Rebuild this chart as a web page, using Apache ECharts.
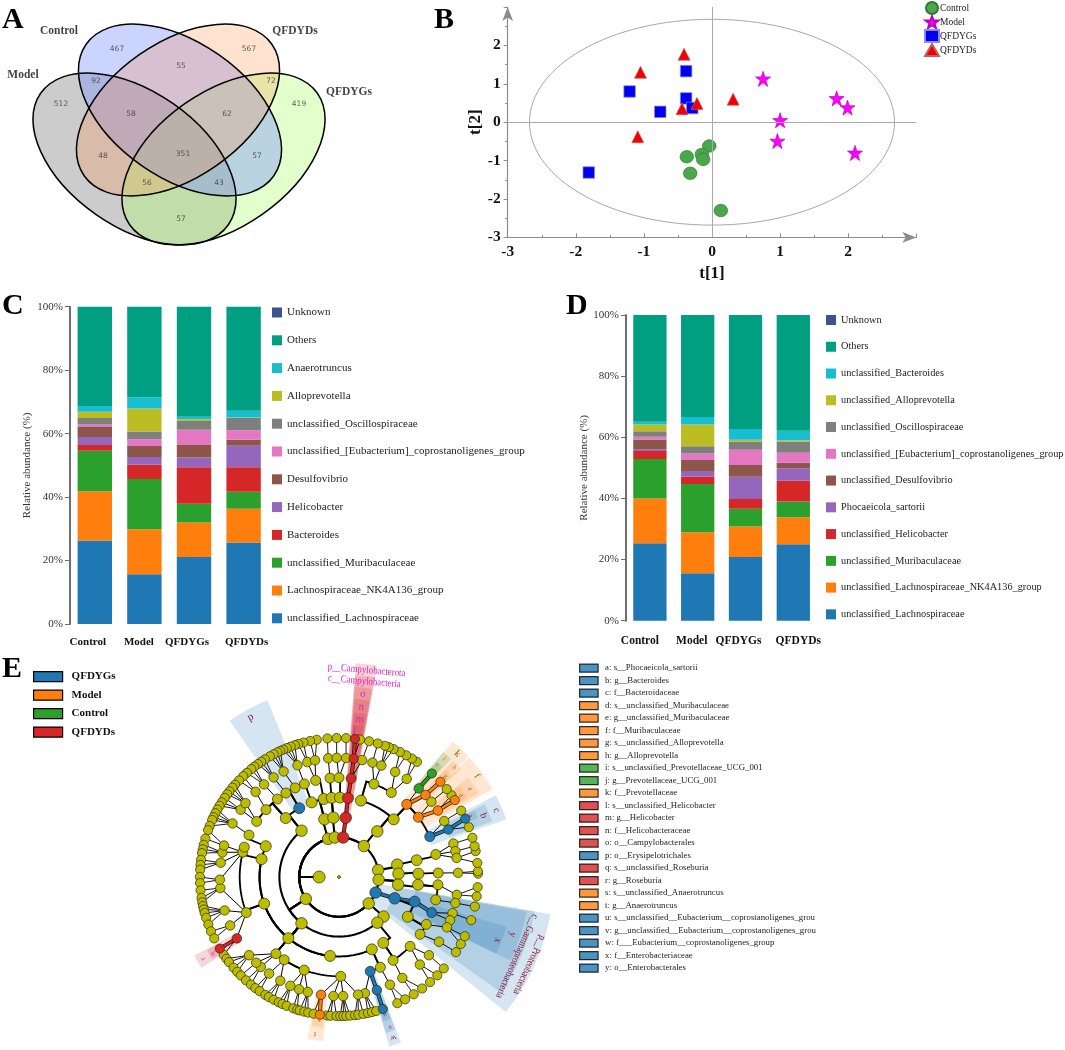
<!DOCTYPE html>
<html><head><meta charset="utf-8">
<style>html,body{margin:0;padding:0;background:#fff}#c{width:1065px;height:1050px}</style>
<script src="https://cdn.jsdelivr.net/npm/echarts@6/dist/echarts.min.js"></script>
</head><body><div id="c"></div>
<script>
// ---------- data ----------
const groups = ['Control','Model','QFDYGs','QFDYDs'];
// Panel A
const vennCounts = [467,567,55,92,72,512,419,58,62,48,351,57,56,43,57];
// Panel B (t[1], t[2])
const scoreControl = [[-0.04,-0.62],[-0.37,-0.90],[-0.15,-0.84],[-0.13,-0.97],[-0.32,-1.33],[0.13,-2.30]];
const scoreModel   = [[0.75,1.13],[1.83,0.62],[1.99,0.38],[1.00,0.05],[0.96,-0.49],[2.10,-0.80]];
const scoreQFDYGs  = [[-0.38,1.33],[-1.21,0.80],[-0.38,0.62],[-0.29,0.37],[-0.76,0.27],[-1.81,-1.31]];
const scoreQFDYDs  = [[-0.41,1.77],[-1.05,1.30],[0.31,0.60],[-0.22,0.49],[-0.44,0.35],[-1.09,-0.38]];
const ellipseRadius = 2.68;
// Panel C (bottom to top, per group)
const genusNames = ['unclassified_Lachnospiraceae','Lachnospiraceae_NK4A136_group','unclassified_Muribaculaceae','Bacteroides','Helicobacter','Desulfovibrio','unclassified_[Eubacterium]_coprostanoligenes_group','unclassified_Oscillospiraceae','Alloprevotella','Anaerotruncus','Others','Unknown'];
const genusControl = [26.3,15.5,12.8,1.8,2.5,3.2,0.8,2.0,2.0,1.8,31.3,0];
const genusModel   = [15.7,14.2,15.8,4.5,2.4,3.5,2.1,2.5,7.2,3.6,28.5,0];
const genusQFDYGs  = [21.1,10.9,5.9,11.5,3.1,3.9,4.8,2.8,0.5,0.8,34.7,0];
const genusQFDYDs  = [25.7,10.6,5.4,7.7,6.8,1.9,3.0,3.8,0.2,2.1,32.8,0];
// Panel D
const speciesNames = ['unclassified_Lachnospiraceae','unclassified_Lachnospiraceae_NK4A136_group','unclassified_Muribaculaceae','unclassified_Helicobacter','Phocaeicola_sartorii','unclassified_Desulfovibrio','unclassified_[Eubacterium]_coprostanoligenes_group','unclassified_Oscillospiraceae','unclassified_Alloprevotella','unclassified_Bacteroides','Others','Unknown'];
const speciesControl = [25.3,14.7,12.9,2.6,0.6,3.2,0.9,1.8,2.2,0.9,34.9,0];
const speciesModel   = [15.5,13.4,15.8,2.4,1.9,3.6,2.1,2.4,7.1,2.4,33.4,0];
const speciesQFDYGs  = [20.8,10.0,5.8,3.2,7.3,3.8,5.0,2.7,0.6,3.5,37.3,0];
const speciesQFDYDs  = [25.0,8.8,5.2,6.8,4.1,1.8,3.2,3.7,0.4,3.1,37.9,0];
// Panel E: cladogram nodes per ring as [angle, parent angle]; angle clockwise from the top
const ring2 = [[6,270],[38.8,270],[80,270],[94,270],[113,270],[131.6,270],[236.6,270],[344,270],[354,270]];
const ring3 = [[6.5,6],[40,38.8],[78,80],[86.8,94],[97.4,94],[111,113],[131.6,131.6],[140,236.6],[219,236.6],[321,236.6],[345.8,344],[354.6,354]];
const ring4 = [[6.5,6.5],[16,40],[43.5,40],[77.8,78],[87.6,86.8],[95.6,97.4],[108,111],[120,111],[146.1,140],[155.6,219],[186.5,219],[219.6,219],[250.4,219],[283,219],[292.8,219],[317.9,321],[330,321],[339.9,345.8],[348.9,345.8],[354.7,354.6],[0.7,354.6]];
const ring5 = [[7,6.5],[20.6,16],[31.8,16],[43,43.5],[53,43.5],[66,43.5],[76.9,77.8],[87.7,87.6],[94.5,95.6],[103.3,95.6],[111,108],[118.5,120],[125.2,120],[134.3,146.1],[147,146.1],[155.4,155.6],[161.7,155.6],[179,219.6],[200.5,219.6],[213.5,219.6],[219.4,219.6],[249,250.4],[284.5,250.4],[287.5,283],[295,292.8],[304,317.9],[312.7,317.9],[321.7,317.9],[327.7,330],[333.8,330],[339.6,339.9],[346.4,348.9],[354.8,354.7],[0,0.7]];
const ring6 = [7.1,11.2,16.3,20.8,28.1,34.6,42,46.5,50.8,56.1,62,66.5,73.7,77.5,80.8,88,98.6,102.6,107.7,111.3,115,122.9,131,137.3,147.9,154.7,161.5,167.4,170.8,178,182.7,188.7,195.2,199.6,204.1,209.5,215.9,221,224,229,239,246,253.7,264.7,268.7,276.9,281.9,285.3,296.7,304.4,308.3,315.6,321,326.7,332.3,339.6,344.6,348.4,354.8,358.9,3.4];
const ring7 = [2.9,359,355.2,350.8,348,345.2,343,341.5,339.7,338,336.4,335,333.7,332,330.2,327.8,326,324.3,322.5,320.9,318.5,316.5,314,311.6,310,308,306.5,304.7,302.5,300.8,299,297.3,295.5,294.2,291.5,289.7,286,283.4,281.5,279.9,277.1,275,273,270,267.5,264.5,261.4,259.5,258,256.5,255,252.9,250,247,243.8,239,236,234,232.3,229.3,227,224.9,222,219.3,217,214.8,212,210.3,208,205.7,204,202.1,199.2,197.5,196.4,194.5,192.8,190.5,187.9,185,183.5,181,179.5,178.2,177,175.4,173.4,172,169.9,168,166.3,164.5,161.6,155.2,151.6,147.5,143.3,139.1,135,131.1,122.7,118.8,115.2,108.1,102.3,98,94.2,88.6,87.6,84.2,79.3,77.2,73.6,69,65.2,61.5,56.4,54,50.8,46.8,41.9,34.1,31.6,28.9,26,23.1,21,19.3,16.2,12.5,8.7,6.6];
// discriminant clades: [ring, angle]
const cladeRed    = [[2,6],[3,6.5],[4,6.5],[5,7],[6,7.1],[7,6.6],[6,239],[7,239]];
const cladeBlue   = [[2,113],[3,111],[4,108],[5,111],[4,330],[5,66],[6,66.5],[7,65.2],[5,161.7],[6,161.5],[7,161.6]];
const cladeOrange = [[5,43],[5,53],[6,46.5],[7,46.8],[6,56.1],[7,56.4],[6,188.7],[7,187.9]];
const cladeGreen  = [[6,42],[7,41.9]];
// Panel E legend
const taxaNames = ['a: s__Phocaeicola_sartorii','b: g__Bacteroides','c: f__Bacteroidaceae','d: s__unclassified_Muribaculaceae','e: g__unclassified_Muribaculaceae','f: f__Muribaculaceae','g: s__unclassified_Alloprevotella','h: g__Alloprevotella','i: s__unclassified_Prevotellaceae_UCG_001','j: g__Prevotellaceae_UCG_001','k: f__Prevotellaceae','l: s__unclassified_Helicobacter','m: g__Helicobacter','n: f__Helicobacteraceae','o: o__Campylobacterales','p: o__Erysipelotrichales','q: s__unclassified_Roseburia','r: g__Roseburia','s: s__unclassified_Anaerotruncus','t: g__Anaerotruncus','u: s__unclassified__Eubacterium__coprostanoligenes_group','v: g__unclassified__Eubacterium__coprostanoligenes_group','w: f___Eubacterium__coprostanoligenes_group','x: f__Enterobacteriaceae','y: o__Enterobacterales'];
const taxaGroups = ['b','b','b','o','o','o','o','o','g','g','o','r','r','r','r','b','r','r','o','o','b','b','b','b','b'];
const cladeLegend = ['QFDYGs','Model','Control','QFDYDs'];

// ---------- layout and styles ----------
const SERIF = '"Liberation Serif","Times New Roman",serif';
const STACK_COLORS = ['#1f77b4','#ff7f0e','#2ca02c','#d62728','#9467bd','#8c564b','#e377c2','#7f7f7f','#bcbd22','#17becf','#009f81','#3c5488'];
const GC = {b:'#1f77b4',o:'#ff7f0e',g:'#2ca02c',r:'#d62728',y:'#bcbc00'};
const STAR = 'path://M50 2 L61.8 36 L98 36 L68.6 57.6 L79.4 92 L50 71 L20.6 92 L31.4 57.6 L2 36 L38.2 36 Z';
const labelShiftC = [-7,-5.5,-7,3];
const labelShiftD = [-10,-6,-7,5];

// Venn layout in page pixels
const vennEllipses = [
  {cx:134.5,cy:159,rot:35,fill:'rgba(115,115,115,0.36)'},
  {cx:223.5,cy:159,rot:-35,fill:'rgba(170,255,100,0.33)'},
  {cx:180,cy:110,rot:35,fill:'rgba(125,145,255,0.40)'},
  {cx:178,cy:110,rot:-35,fill:'rgba(255,140,60,0.24)'}
];
const vennA = 114.6, vennB = 67.5;
const vennLabelAt = [[117,48.7],[249,48.7],[181,66],[96,81],[271,81],[61,104],[299,104],[131,114],[227,114],[103,156],[183,154],[257,156],[147,183],[219,183],[181,219]];
const vennSetLabels = [['Control',59,31],['QFDYDs',295,31],['Model',23,75],['QFDYGs',349,92]];

// wedges: [angle from, angle to, ring from, ring to, colour key]
const wedges = [
  [4.5,10.2,2.9,10.8,'r'],[4.5,10.2,2.9,10.2,'r'],[4.8,10,3.9,9.6,'r'],[5,9.8,4.9,9,'r'],[5.2,9.5,5.9,8.3,'r'],[5.4,9.2,6.9,7.7,'r'],
  [325,338,3.9,9.6,'b'],
  [40.1,47,4.9,8.9,'o'],[47.5,60.2,4.9,8.9,'o'],[39.8,43.5,5.9,8.2,'g'],[40.2,43.2,6.9,7.6,'g'],[44.5,48.5,5.9,8.2,'o'],[45,48.2,6.9,7.6,'o'],[52.5,59,5.9,8.2,'o'],[53,58,6.9,7.6,'o'],
  [62.5,71,4.9,8.9,'b'],[63.5,70,5.9,8.2,'b'],[64,67,6.9,7.6,'b'],
  [100,129,1.9,10.8,'b'],[100,125.5,2.9,10,'b'],[100.5,116,3.9,9.6,'b'],[106.5,116,4.9,8.8,'b'],
  [159.5,163.5,4.9,8.9,'b'],[159.8,163.2,5.9,8.2,'b'],[160,163,6.9,7.6,'b'],
  [185.5,191,5.9,8.3,'o'],[186,190.5,6.9,7.6,'o'],
  [236.5,241.5,5.9,8.3,'r'],[237,241,6.9,7.6,'r']
];
const M='#e01fc4', D='#8a1c3c', O='#7a6a20';
const wedgeLabels = [
  ['p__Campylobacterota',10.5,7.6,M,5,10.5],['c__Campylobacteria',9.93,7.4,M,5,10.5],['o',9.29,7.4,M,7,11],['n',8.63,7.5,M,7,11],['m',8,7.5,M,7,11],['l',7.4,6,M,7,11],
  ['p',9.2,331,D,-29,11],['k',8.6,43.9,O,44,10],['f',8.6,53.8,O,54,10],['j',8,41.7,O,42,6],['i',7.5,41.2,O,41,6],['h',8,46.6,O,47,6],['g',7.4,46.7,O,47,6],['e',7.95,56.1,O,56,7],['d',7.37,56.2,O,56,6],
  ['c',8.6,67,D,67,10],['b',7.9,67,D,67,10],['a',7.3,65,D,65,6],
  ['y',9.2,108.4,D,108,10],['x',8.6,111.8,D,112,10],['c__Gammaproteobacteria',9.8,114,D,114,10.5],['p__Proteobacteria',10.55,114.8,D,115,10.5],
  ['u',7.3,161.5,D,161,7],['v',8,161.2,D,161,7],['w',8.55,161.3,D,161,8],
  ['s',7.3,187.8,O,188,7],['t',8,188.7,O,188,8],['q',7.45,238.7,M,239,7],['r',8,239,M,239,8]
];
const ringSize = {0:3,1:12,2:11.5,3:11.5,4:11,5:10,6:9.5,7:9.2};
const ringLine = {2:2.1,3:2.1,4:2,5:1.8,6:1,7:0.9};

// ---------- cladogram helpers ----------
const circ = (a,b)=>{const d=Math.abs(a-b)%360;return d>180?360-d:d;};
const nearest = (a,list)=>list.reduce((m,p)=>circ(p[0],a)<circ(m,a)?p[0]:m,list[0][0]);
const edges = [];
[[2,ring2],[3,ring3],[4,ring4],[5,ring5]].forEach(([k,list])=>{
  list.forEach(n=>edges.push({pr:k-1,pa:n[1],cr:k,ca:n[0],straight:false}));
});
ring6.forEach(a=>edges.push({pr:5,pa:nearest(a,ring5),cr:6,ca:a,straight:true}));
const ring6p = ring6.map(a=>[a]);
ring7.forEach(a=>edges.push({pr:6,pa:nearest(a,ring6p),cr:7,ca:a,straight:true}));
const colorOf = {};
[[cladeRed,'r'],[cladeBlue,'b'],[cladeOrange,'o'],[cladeGreen,'g']].forEach(([l,c])=>l.forEach(n=>colorOf[n[0]+':'+n[1]]=c));
const plainNodes = [[0,0],[1,270]];
[[2,ring2],[3,ring3],[4,ring4],[5,ring5]].forEach(([k,l])=>l.forEach(n=>{if(!colorOf[k+':'+n[0]])plainNodes.push([k,n[0]]);}));
[[6,ring6],[7,ring7]].forEach(([k,l])=>l.forEach(a=>{if(!colorOf[k+':'+a])plainNodes.push([k,a]);}));

function edgePath(e,api){
  const pts=[];
  if(e.straight){pts.push(api.coord([e.pr,e.pa]),api.coord([e.cr,e.ca]));return pts;}
  pts.push(api.coord([e.pr,e.pa]),api.coord([e.cr,e.pa]));
  let d=e.ca-e.pa; while(d>180)d-=360; while(d<-180)d+=360;
  const n=Math.max(1,Math.ceil(Math.abs(d)/2));
  for(let i=1;i<=n;i++)pts.push(api.coord([e.cr,e.pa+d*i/n]));
  return pts;
}

// ---------- series ----------
const series = [];
// Venn
series.push({type:'custom',xAxisIndex:0,yAxisIndex:0,silent:true,z:2,clip:false,
  data:vennEllipses.map(e=>[e.cx,e.cy]),
  renderItem:(p,api)=>{const e=vennEllipses[p.dataIndex],c=api.coord([e.cx,e.cy]);
    return {type:'ellipse',x:c[0],y:c[1],rotation:-e.rot*Math.PI/180,shape:{cx:0,cy:0,rx:vennA,ry:vennB},style:{fill:e.fill,stroke:'none'}};}});
series.push({type:'custom',xAxisIndex:0,yAxisIndex:0,silent:true,z:3,clip:false,
  data:vennEllipses.map(e=>[e.cx,e.cy]),
  renderItem:(p,api)=>{const e=vennEllipses[p.dataIndex],c=api.coord([e.cx,e.cy]);
    return {type:'ellipse',x:c[0],y:c[1],rotation:-e.rot*Math.PI/180,shape:{cx:0,cy:0,rx:vennA,ry:vennB},style:{fill:'none',stroke:'#000',lineWidth:1.5}};}});
series.push({type:'scatter',xAxisIndex:0,yAxisIndex:0,silent:true,z:4,symbolSize:0,
  data:vennCounts.map((v,i)=>({value:vennLabelAt[i],label:{formatter:String(v)}})),
  label:{show:true,position:'inside',fontFamily:'"DejaVu Sans",sans-serif',fontSize:7.5,color:'#3a3a3a'}});
series.push({type:'scatter',xAxisIndex:0,yAxisIndex:0,silent:true,z:4,symbolSize:0,
  data:vennSetLabels.map(s=>({value:[s[1],s[2]],label:{formatter:s[0]}})),
  label:{show:true,position:'inside',fontFamily:SERIF,fontWeight:'bold',fontSize:11.5,color:'#111'}});

// PCA
const pcaMark = {silent:true,symbol:'none',label:{show:false},lineStyle:{color:'#aaa',width:1,type:'solid'},animation:false,data:[{xAxis:0},{yAxis:0}]};
series.push({type:'custom',xAxisIndex:3,yAxisIndex:3,silent:true,z:2,data:[[0,0]],markLine:pcaMark,
  renderItem:(p,api)=>{const c=api.coord([0,0]),s=api.size([ellipseRadius,ellipseRadius]);
    return {type:'ellipse',shape:{cx:c[0],cy:c[1],rx:s[0],ry:s[1]},style:{fill:'none',stroke:'#a8a8a8',lineWidth:1}};}});
[['Control',scoreControl,'circle',[13.5,12.5],'#4aa84a','#2c7a35'],['Model',scoreModel,STAR,15,'#ff00ff','#c000c0'],['QFDYGs',scoreQFDYGs,'rect',11.5,'#0000f0','#8888ff'],['QFDYDs',scoreQFDYDs,'triangle',12,'#f00000','#c06060']].forEach(s=>{
  series.push({name:s[0],type:'scatter',xAxisIndex:3,yAxisIndex:3,z:3,data:s[1],symbol:s[2],symbolSize:s[3],itemStyle:{color:s[4],borderColor:s[5],borderWidth:0.7,opacity:1}});
});

// Stacked bars
function stacks(names,valsByGroup,axis,stack,barW){
  names.forEach((nm,i)=>series.push({name:nm,type:'bar',stack,xAxisIndex:axis,yAxisIndex:axis,barWidth:barW,silent:true,
    itemStyle:{color:STACK_COLORS[i]},data:valsByGroup.map(v=>v[i])}));
}
stacks(genusNames,[genusControl,genusModel,genusQFDYGs,genusQFDYDs],1,'genus',34.4);
stacks(speciesNames,[speciesControl,speciesModel,speciesQFDYGs,speciesQFDYDs],2,'species',33.3);

// Cladogram
series.push({type:'custom',coordinateSystem:'polar',polarIndex:0,silent:true,z:2,clip:false,
  data:wedges.map(w=>[w[3],w[0]]),
  renderItem:(p,api)=>{const w=wedges[p.dataIndex],pts=[],n=Math.max(2,Math.ceil((w[1]-w[0])/2));
    for(let i=0;i<=n;i++)pts.push(api.coord([w[3],w[0]+(w[1]-w[0])*i/n]));
    for(let i=n;i>=0;i--)pts.push(api.coord([w[2],w[0]+(w[1]-w[0])*i/n]));
    return {type:'polygon',shape:{points:pts},style:{fill:GC[w[4]],opacity:0.19,stroke:'none'}};}});
series.push({type:'custom',coordinateSystem:'polar',polarIndex:0,silent:true,z:3,clip:false,
  data:edges.map(e=>[e.cr,e.ca]),
  renderItem:(p,api)=>{const e=edges[p.dataIndex],pts=edgePath(e,api);
    const c1=colorOf[e.pr+':'+e.pa],c2=colorOf[e.cr+':'+e.ca];
    const base={type:'polyline',shape:{points:pts},style:{fill:'none',stroke:'#000',lineWidth:ringLine[e.cr]}};
    if(c1&&c1===c2){return {type:'group',children:[
      {type:'polyline',shape:{points:[api.coord([e.pr,e.pa]),api.coord([e.cr,e.ca])]},style:{fill:'none',stroke:'#111',lineWidth:4}},
      {type:'polyline',shape:{points:[api.coord([e.pr,e.pa]),api.coord([e.cr,e.ca])]},style:{fill:'none',stroke:GC[c1],lineWidth:2.6}}]};}
    return base;}});
const nodeSeries=(name,data,color)=>({name,type:'scatter',coordinateSystem:'polar',polarIndex:0,silent:true,z:4,data,
  symbol:'circle',symbolSize:v=>ringSize[v[0]],itemStyle:{color,borderColor:'#2a2a00',borderWidth:0.7,opacity:1}});
series.push(nodeSeries('clade other',plainNodes,GC.y));
series.push(nodeSeries('clade red',cladeRed,GC.r));
series.push(nodeSeries('clade blue',cladeBlue,GC.b));
series.push(nodeSeries('clade orange',cladeOrange,GC.o));
series.push(nodeSeries('clade green',cladeGreen,GC.g));
series.push({type:'custom',coordinateSystem:'polar',polarIndex:0,silent:true,z:5,clip:false,
  data:wedgeLabels.map(l=>[l[1],l[2]]),
  renderItem:(p,api)=>{const l=wedgeLabels[p.dataIndex],c=api.coord([l[1],l[2]]);
    return {type:'text',x:c[0],y:c[1],rotation:-l[4]*Math.PI/180,scaleX:l[0].length>2?0.84:1,
      style:{text:l[0],fill:l[3],font:l[5]+'px "Liberation Serif"',textAlign:'center',textVerticalAlign:'middle'}};}});
// empty series behind the taxon legend
taxaNames.forEach((n,i)=>series.push({name:n,type:'scatter',coordinateSystem:'polar',polarIndex:0,data:[],itemStyle:{color:GC[taxaGroups[i]]}}));

// ---------- axes ----------
const hiddenX={show:false,type:'value',min:0,max:1065,gridIndex:0};
const hiddenY={show:false,type:'value',min:0,max:1050,inverse:true,gridIndex:0};
const catAxis=(g,margin,fs,shift)=>({type:'category',gridIndex:g,axisLine:{show:false},axisTick:{show:false},
  data:groups.map((n,i)=>({value:n,textStyle:{padding:shift[i]<0?[0,-2*shift[i],0,0]:[0,0,0,2*shift[i]]}})),
  axisLabel:{fontFamily:SERIF,fontWeight:'bold',fontSize:fs,color:'#111',margin,interval:0}});
const pctAxis=(g,gap)=>({type:'value',gridIndex:g,min:0,max:100,interval:20,splitLine:{show:false},
  axisLine:{show:true,lineStyle:{color:'#6e6e6e',width:2}},axisTick:{show:true,length:5,lineStyle:{color:'#6e6e6e',width:1}},
  axisLabel:{formatter:'{value}%',fontFamily:SERIF,fontSize:11,color:'#333',margin:7},
  name:'Relative abundance (%)',nameLocation:'middle',nameGap:gap,nameTextStyle:{fontFamily:SERIF,fontSize:11,color:'#333'}});
const pcaAxis=(g,name,gap,inside)=>({type:'value',gridIndex:g,min:-3,max:3,interval:1,splitLine:{show:false},
  axisLine:{show:true,symbol:['none','arrow'],symbolSize:[8,14],lineStyle:{color:'#8c8c8c',width:1.2},onZero:false},
  axisTick:{show:true,inside,length:4,lineStyle:{color:'#8c8c8c'}},
  minorTick:{show:true,splitNumber:2,length:2.5,lineStyle:{color:'#8c8c8c'}},
  axisLabel:{fontFamily:SERIF,fontWeight:'bold',fontSize:15.5,color:'#111',margin:7,showMinLabel:true,showMaxLabel:false,
    formatter:v=>v===3?'':String(v)},
  name,nameLocation:'middle',nameGap:gap,nameTextStyle:{fontFamily:SERIF,fontWeight:'bold',fontSize:17,color:'#111'}});

const legendText={fontFamily:SERIF,color:'#222'};
const letter=(t,x,y)=>({text:t,left:x,top:y,padding:0,textStyle:{fontFamily:SERIF,fontWeight:'bold',fontSize:30,color:'#000'}});

const option={
  animation:false,backgroundColor:'#fff',
  title:[letter('A',2,5),letter('B',434,5),letter('C',2,291),letter('D',566,291),letter('E',2,654)],
  grid:[
    {left:0,top:0,width:1065,height:1050,containLabel:false},
    {left:70,top:306.7,width:198.4,height:317.3},
    {left:626,top:315,width:191.2,height:305.7},
    {left:507.7,top:7,width:408.6,height:230.4}
  ],
  xAxis:[hiddenX,catAxis(1,12.5,11,labelShiftC),catAxis(2,14,11.5,labelShiftD),pcaAxis(3,'t[1]',28,true)],
  yAxis:[hiddenY,pctAxis(1,37),pctAxis(2,34),pcaAxis(3,'t[2]',12,false)],
  polar:[{center:[339,877],radius:218.5}],
  radiusAxis:[{show:false,type:'value',min:0,max:11,polarIndex:0}],
  angleAxis:[{show:false,type:'value',min:0,max:360,startAngle:90,clockwise:true,polarIndex:0}],
  legend:[
    {left:272,top:307,padding:0,orient:'vertical',selectedMode:false,itemWidth:10,itemHeight:10,itemGap:16.8,icon:'rect',
      textStyle:{...legendText,fontSize:11},data:genusNames.slice().reverse()},
    {left:826,top:315,padding:0,orient:'vertical',selectedMode:false,itemWidth:10,itemHeight:10,itemGap:16.76,icon:'rect',
      textStyle:{...legendText,fontSize:10.3},data:speciesNames.slice().reverse()},
    {left:924,top:1,padding:0,orient:'vertical',selectedMode:false,itemWidth:14,itemHeight:12,itemGap:0,
      textStyle:{...legendText,fontSize:9.5,padding:[0,0,0,-4]},
      data:[{name:'Control',icon:'circle'},{name:'Model',icon:STAR},{name:'QFDYGs',icon:'rect'},{name:'QFDYDs',icon:'triangle'}]},
    {left:33,top:671,padding:0,orient:'vertical',selectedMode:false,itemWidth:29,itemHeight:10,itemGap:7.3,
      textStyle:{fontFamily:SERIF,fontWeight:'bold',fontSize:11,color:'#111',padding:[0,0,0,4]},
      data:cladeLegend.map((n,i)=>({name:n,icon:'rect',itemStyle:{color:[GC.b,GC.o,GC.g,GC.r][i],borderColor:'#000',borderWidth:1.2}}))},
    {left:579,top:663.5,padding:0,orient:'vertical',selectedMode:false,itemWidth:18.5,itemHeight:8,itemGap:3.3,icon:'rect',
      itemStyle:{borderColor:'#000',borderWidth:1.2},
      textStyle:{fontFamily:SERIF,fontSize:8.8,color:'#222',padding:[0,0,0,2],width:213,overflow:'truncate',ellipsis:''},
      data:taxaNames}
  ],
  series
};
const chart=echarts.init(document.getElementById('c'));
chart.setOption(option);
</script></body></html>
